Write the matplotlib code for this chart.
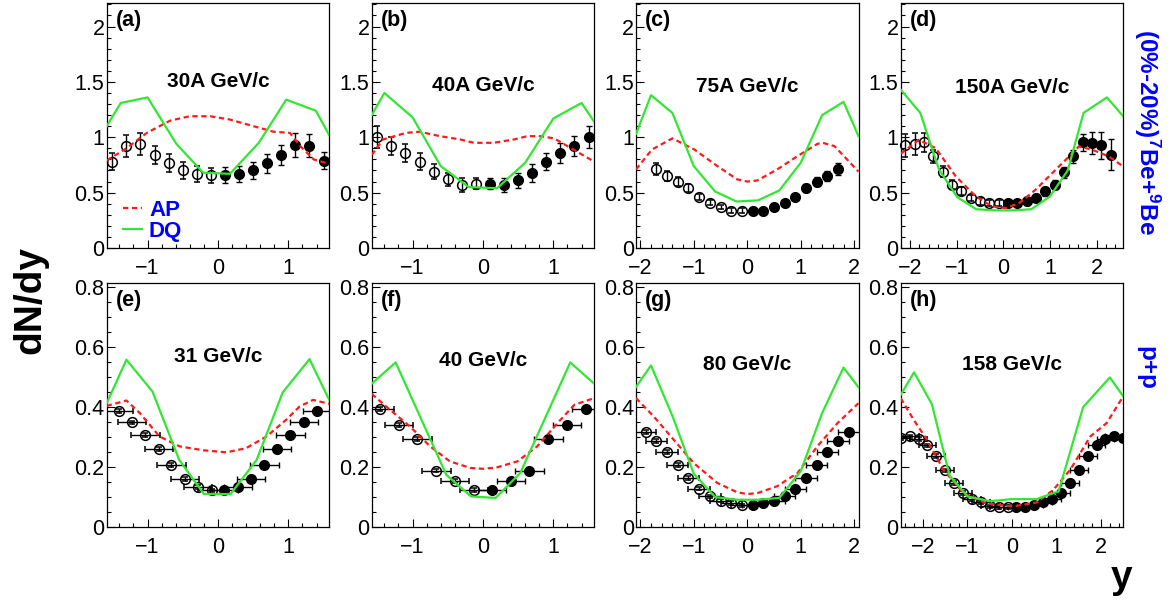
import matplotlib
matplotlib.use('Agg')
import matplotlib.pyplot as plt
from matplotlib.ticker import MultipleLocator, FuncFormatter

plt.rcParams['font.family'] = ['Liberation Sans', 'DejaVu Sans']
plt.rcParams['mathtext.fontset'] = 'custom'
plt.rcParams['mathtext.rm'] = 'Liberation Sans:bold'
plt.rcParams['mathtext.it'] = 'Liberation Sans:bold'
plt.rcParams['mathtext.bf'] = 'Liberation Sans:bold'

# ---------------- data ----------------
titles = ["30A GeV/c", "40A GeV/c", "75A GeV/c", "150A GeV/c",
          "31 GeV/c", "40 GeV/c", "80 GeV/c", "158 GeV/c"]
tags = ["(a)", "(b)", "(c)", "(d)", "(e)", "(f)", "(g)", "(h)"]

# (a) Be+Be 30A GeV/c
a_x_open = [-1.5, -1.3, -1.1, -0.9, -0.7, -0.5, -0.3, -0.1]
a_y_open = [0.78, 0.925, 0.94, 0.84, 0.765, 0.70, 0.67, 0.655]
a_e_open = [0.08, 0.10, 0.10, 0.08, 0.08, 0.075, 0.07, 0.07]
a_x_fill = [0.1, 0.3, 0.5, 0.7, 0.9, 1.1, 1.3, 1.5]
a_y_fill = [0.66, 0.67, 0.70, 0.765, 0.84, 0.93, 0.925, 0.79]
a_e_fill = [0.07, 0.07, 0.075, 0.085, 0.09, 0.11, 0.105, 0.08]
a_ap_x = [-1.58, -1.30, -1.01, -0.68, -0.40, -0.11, 0.17, 0.45, 0.79, 1.02, 1.17, 1.36, 1.58]
a_ap_y = [0.79, 0.90, 1.04, 1.15, 1.19, 1.19, 1.16, 1.11, 1.05, 1.04, 0.92, 0.80, 0.76]
a_dq_x = [-1.58, -1.38, -1.0, -0.59, -0.21, 0.17, 0.58, 0.97, 1.39, 1.58]
a_dq_y = [1.10, 1.31, 1.36, 0.94, 0.68, 0.67, 0.95, 1.34, 1.24, 1.02]

# (b) Be+Be 40A GeV/c
b_x_open = [-1.5, -1.3, -1.1, -0.9, -0.7, -0.5, -0.3, -0.1]
b_y_open = [1.0, 0.92, 0.86, 0.78, 0.69, 0.62, 0.57, 0.58]
b_e_open = [0.10, 0.08, 0.08, 0.08, 0.07, 0.06, 0.06, 0.05]
b_x_fill = [0.1, 0.3, 0.5, 0.7, 0.9, 1.1, 1.3, 1.5]
b_y_fill = [0.58, 0.57, 0.61, 0.68, 0.78, 0.86, 0.92, 1.0]
b_e_fill = [0.05, 0.06, 0.07, 0.08, 0.08, 0.09, 0.09, 0.10]
b_ap_x = [-1.58, -1.42, -1.09, -0.9, -0.61, -0.32, -0.13, 0.15, 0.44, 0.63, 0.82, 1.01, 1.2, 1.58]
b_ap_y = [0.84, 0.98, 1.04, 1.05, 1.01, 0.98, 0.95, 0.95, 0.98, 1.01, 1.01, 0.99, 0.92, 0.78]
b_dq_x = [-1.58, -1.4, -1.0, -0.6, -0.2, 0.2, 0.6, 1.0, 1.4, 1.58]
b_dq_y = [1.20, 1.40, 1.18, 0.74, 0.55, 0.54, 0.77, 1.17, 1.31, 1.14]

# (c) Be+Be 75A GeV/c
c_x_open = [-1.7, -1.5, -1.3, -1.1, -0.9, -0.7, -0.5, -0.3, -0.1]
c_y_open = [0.716, 0.647, 0.60, 0.54, 0.46, 0.41, 0.37, 0.337, 0.337]
c_e_open = [0.055, 0.045, 0.04, 0.035, 0.03, 0.025, 0.02, 0.02, 0.02]
c_x_fill = [0.1, 0.3, 0.5, 0.7, 0.9, 1.1, 1.3, 1.5, 1.7]
c_y_fill = [0.337, 0.337, 0.37, 0.41, 0.46, 0.54, 0.60, 0.647, 0.716]
c_e_fill = [0.02, 0.02, 0.02, 0.025, 0.03, 0.035, 0.04, 0.045, 0.055]
c_ap_x = [-2.08, -1.78, -1.4, -0.99, -0.56, -0.19, 0.0, 0.19, 0.56, 0.94, 1.31, 1.41, 1.63, 2.08]
c_ap_y = [0.71, 0.89, 0.99, 0.89, 0.74, 0.62, 0.60, 0.61, 0.71, 0.83, 0.94, 0.95, 0.92, 0.69]
c_dq_x = [-2.08, -1.8, -1.4, -1.0, -0.6, -0.2, 0.2, 0.6, 1.0, 1.4, 1.8, 2.08]
c_dq_y = [1.03, 1.38, 1.22, 0.74, 0.51, 0.42, 0.43, 0.52, 0.77, 1.20, 1.32, 1.01]

# (d) Be+Be 150A GeV/c
d_x_open = [-2.1, -1.9, -1.7, -1.5, -1.3, -1.1, -0.9, -0.7, -0.5, -0.3, -0.1]
d_y_open = [0.926, 0.94, 0.953, 0.827, 0.69, 0.571, 0.517, 0.451, 0.421, 0.406, 0.406]
d_e_open = [0.10, 0.10, 0.09, 0.06, 0.05, 0.04, 0.035, 0.03, 0.03, 0.03, 0.03]
d_x_fill = [0.1, 0.3, 0.5, 0.7, 0.9, 1.1, 1.3, 1.5, 1.7, 1.9, 2.1, 2.3]
d_y_fill = [0.406, 0.406, 0.421, 0.451, 0.511, 0.571, 0.683, 0.827, 0.953, 0.947, 0.926, 0.842]
d_e_fill = [0.03, 0.03, 0.03, 0.035, 0.04, 0.04, 0.05, 0.06, 0.08, 0.10, 0.12, 0.14]
d_ap_x = [-2.2, -1.81, -1.45, -1.02, -0.59, -0.24, 0.05, 0.34, 0.69, 1.05, 1.41, 1.62, 1.91, 2.26, 2.57]
d_ap_y = [0.851, 0.977, 0.902, 0.647, 0.466, 0.376, 0.361, 0.406, 0.526, 0.677, 0.827, 0.917, 0.887, 0.827, 0.737]
d_dq_x = [-2.2, -1.78, -1.38, -0.99, -0.58, -0.18, 0.22, 0.6, 1.0, 1.38, 1.72, 2.22, 2.57]
d_dq_y = [1.43, 1.22, 0.71, 0.46, 0.35, 0.34, 0.34, 0.35, 0.466, 0.70, 1.22, 1.36, 1.19]

# (e) p+p 31 GeV/c
e_x_open = [-1.41, -1.22, -1.03, -0.84, -0.66, -0.47, -0.28, -0.09]
e_y_open = [0.386, 0.349, 0.307, 0.261, 0.206, 0.16, 0.133, 0.122]
e_x_fill = [0.09, 0.28, 0.47, 0.66, 0.84, 1.03, 1.22, 1.41]
e_y_fill = [0.122, 0.133, 0.16, 0.206, 0.261, 0.307, 0.349, 0.386]
e_ap_x = [-1.58, -1.30, -1.11, -0.83, -0.545, -0.21, 0.12, 0.40, 0.69, 0.97, 1.16, 1.35, 1.58]
e_ap_y = [0.404, 0.422, 0.38, 0.302, 0.269, 0.256, 0.249, 0.263, 0.302, 0.358, 0.402, 0.424, 0.411]
e_dq_x = [-1.58, -1.3, -0.93, -0.55, -0.2, 0.18, 0.55, 0.92, 1.3, 1.58]
e_dq_y = [0.413, 0.558, 0.452, 0.224, 0.11, 0.11, 0.224, 0.449, 0.56, 0.424]

# (f) p+p 40 GeV/c
f_x_open = [-1.46, -1.19, -0.93, -0.66, -0.40, -0.13]
f_y_open = [0.393, 0.341, 0.293, 0.188, 0.153, 0.124]
f_x_fill = [0.13, 0.40, 0.66, 0.93, 1.19, 1.46]
f_y_fill = [0.124, 0.153, 0.188, 0.293, 0.341, 0.393]
f_ap_x = [-1.58, -1.32, -1.04, -0.75, -0.47, -0.18, 0.01, 0.2, 0.49, 0.77, 1.06, 1.3, 1.58]
f_ap_y = [0.444, 0.391, 0.336, 0.269, 0.219, 0.197, 0.194, 0.199, 0.219, 0.269, 0.347, 0.408, 0.43]
f_dq_x = [-1.58, -1.24, -0.52, -0.17, 0.18, 0.53, 1.24, 1.58]
f_dq_y = [0.478, 0.549, 0.174, 0.102, 0.097, 0.18, 0.549, 0.478]

# (g) p+p 80 GeV/c
g_x_open = [-1.9, -1.7, -1.5, -1.3, -1.1, -0.9, -0.7, -0.5, -0.3, -0.1]
g_y_open = [0.317, 0.286, 0.25, 0.206, 0.163, 0.128, 0.102, 0.088, 0.08, 0.072]
g_x_fill = [0.1, 0.3, 0.5, 0.7, 0.9, 1.1, 1.3, 1.5, 1.7, 1.9]
g_y_fill = [0.073, 0.08, 0.088, 0.102, 0.128, 0.163, 0.206, 0.25, 0.286, 0.317]
g_ap_x = [-2.08, -1.75, -1.375, -1.0, -0.56, -0.19, 0.0, 0.19, 0.56, 0.94, 1.31, 1.69, 2.08]
g_ap_y = [0.43, 0.369, 0.291, 0.213, 0.147, 0.116, 0.11, 0.113, 0.136, 0.18, 0.269, 0.347, 0.413]
g_dq_x = [-2.08, -1.8, -1.4, -1.0, -0.6, -0.2, 0.2, 0.6, 1.0, 1.4, 1.8, 2.08]
g_dq_y = [0.467, 0.539, 0.371, 0.178, 0.10, 0.091, 0.091, 0.097, 0.186, 0.38, 0.532, 0.466]

# (h) p+p 158 GeV/c
h_x_open = [-2.5, -2.3, -2.1, -1.9, -1.7, -1.5, -1.3, -1.1, -0.9, -0.7, -0.5, -0.3, -0.1]
h_y_open = [0.297, 0.302, 0.293, 0.272, 0.236, 0.189, 0.147, 0.113, 0.093, 0.082, 0.069, 0.066, 0.066]
h_x_fill = [0.1, 0.3, 0.5, 0.7, 0.9, 1.1, 1.3, 1.5, 1.7, 1.9, 2.1, 2.3, 2.5]
h_y_fill = [0.066, 0.066, 0.072, 0.082, 0.093, 0.113, 0.147, 0.189, 0.236, 0.272, 0.293, 0.302, 0.297]
h_ap_x = [-2.5, -2.21, -1.91, -1.54, -1.09, -0.57, 0.03, 0.56, 0.93, 1.31, 1.76, 2.13, 2.5]
h_ap_y = [0.43, 0.358, 0.291, 0.191, 0.113, 0.078, 0.069, 0.082, 0.124, 0.191, 0.302, 0.347, 0.436]
h_dq_x = [-2.5, -2.2, -1.8, -1.4, -1.0, -0.5, 0.0, 0.55, 1.05, 1.6, 2.2, 2.5]
h_dq_y = [0.441, 0.516, 0.41, 0.171, 0.102, 0.086, 0.093, 0.093, 0.119, 0.40, 0.499, 0.436]

xlims = [(-1.58, 1.58), (-1.58, 1.58), (-2.08, 2.08), (-2.2, 2.57),
         (-1.58, 1.58), (-1.58, 1.58), (-2.08, 2.08), (-2.5, 2.5)]
pp_xerr = 0.2
pp_yerr = 0.006

panels = [
    (a_x_open, a_y_open, a_e_open, a_x_fill, a_y_fill, a_e_fill, a_ap_x, a_ap_y, a_dq_x, a_dq_y),
    (b_x_open, b_y_open, b_e_open, b_x_fill, b_y_fill, b_e_fill, b_ap_x, b_ap_y, b_dq_x, b_dq_y),
    (c_x_open, c_y_open, c_e_open, c_x_fill, c_y_fill, c_e_fill, c_ap_x, c_ap_y, c_dq_x, c_dq_y),
    (d_x_open, d_y_open, d_e_open, d_x_fill, d_y_fill, d_e_fill, d_ap_x, d_ap_y, d_dq_x, d_dq_y),
    (e_x_open, e_y_open, None, e_x_fill, e_y_fill, None, e_ap_x, e_ap_y, e_dq_x, e_dq_y),
    (f_x_open, f_y_open, None, f_x_fill, f_y_fill, None, f_ap_x, f_ap_y, f_dq_x, f_dq_y),
    (g_x_open, g_y_open, None, g_x_fill, g_y_fill, None, g_ap_x, g_ap_y, g_dq_x, g_dq_y),
    (h_x_open, h_y_open, None, h_x_fill, h_y_fill, None, h_ap_x, h_ap_y, h_dq_x, h_dq_y),
]

# ---------------- layout ----------------
W, H = 1176, 600
fig = plt.figure(figsize=(W / 100, H / 100), dpi=100)
col_left = [106.7, 371.7, 636.0, 900.7]
ax_w = 222.5
row_top = [3.3, 283.3]
row_bot = [248.0, 527.0]

RED = '#ff1a1a'
GREEN = '#33e633'
title_y = [0.68, 0.665, 0.66, 0.655, 0.70, 0.685, 0.665, 0.665]

fmt = FuncFormatter(lambda v, p: ('%g' % round(v, 6)).replace('-', '\u2212'))

for i, (xo, yo, eo, xf, yf, ef, apx, apy, dqx, dqy) in enumerate(panels):
    r, c = divmod(i, 4)
    l = col_left[c] / W
    b = 1 - row_bot[r] / H
    h = (row_bot[r] - row_top[r]) / H
    ax = fig.add_axes([l, b, ax_w / W, h])
    top = (r == 0)

    if top:
        ax.errorbar(xo, yo, yerr=eo, fmt='o', ms=7, mfc='none', mec='black', mew=1.1,
                    ecolor='black', elinewidth=1.0, capsize=2.4, capthick=1.0, zorder=3, clip_on=False)
        ax.errorbar(xf, yf, yerr=ef, fmt='o', ms=7, mfc='black', mec='black',
                    ecolor='black', elinewidth=1.0, capsize=2.4, capthick=1.0, zorder=3, clip_on=False)
    else:
        ax.errorbar(xo, yo, xerr=pp_xerr, yerr=pp_yerr, fmt='o', ms=7, mfc='none', mec='black', mew=1.1,
                    ecolor='black', elinewidth=1.0, capsize=2.0, capthick=1.0, zorder=3)
        ax.errorbar(xf, yf, xerr=pp_xerr, yerr=pp_yerr, fmt='o', ms=7, mfc='black', mec='black',
                    ecolor='black', elinewidth=1.0, capsize=2.0, capthick=1.0, zorder=3)

    l_ap, = ax.plot(apx, apy, color=RED, lw=1.6, dashes=(2.4, 1.6), zorder=4, label='AP')
    l_dq, = ax.plot(dqx, dqy, color=GREEN, lw=1.6, zorder=4, label='DQ')

    ax.set_xlim(*xlims[i])
    if top:
        ax.set_ylim(0, 2.21)
        ax.yaxis.set_major_locator(MultipleLocator(0.5))
        ax.yaxis.set_minor_locator(MultipleLocator(0.1))
    else:
        ax.set_ylim(0, 0.813)
        ax.yaxis.set_major_locator(MultipleLocator(0.2))
        ax.yaxis.set_minor_locator(MultipleLocator(0.05))
    ax.xaxis.set_major_locator(MultipleLocator(1.0))
    ax.xaxis.set_minor_locator(MultipleLocator(0.2))
    ax.xaxis.set_major_formatter(fmt)
    ax.yaxis.set_major_formatter(fmt)
    ax.tick_params(which='both', direction='in', top=False, right=False, width=0.8)
    ax.tick_params(which='major', length=6, labelsize=15.5)
    ax.tick_params(which='minor', length=3)
    ax.tick_params(axis='x', which='major', pad=7.5)
    ax.tick_params(axis='y', which='major', pad=1.5)
    for sp in ax.spines.values():
        sp.set_linewidth(0.9)

    ax.text(0.5, title_y[i], titles[i], transform=ax.transAxes, ha='center', va='center',
            fontsize=15, fontweight='bold')
    ax.text(0.04, 0.93, tags[i], transform=ax.transAxes, ha='left', va='center',
            fontsize=15.5, fontweight='bold')

    if i == 0:
        ax.legend(handles=[l_ap, l_dq], loc='lower left', bbox_to_anchor=(0.075, 0.025),
                  frameon=False, borderpad=0, borderaxespad=0, handlelength=0.85,
                  handletextpad=0.3, labelspacing=0.0, labelcolor='blue',
                  prop={'weight': 'bold', 'size': 16})

fig.text(30 / W, 1 - 300 / H, 'dN/dy', rotation=90, fontsize=28, fontweight='bold',
         ha='center', va='center')
fig.text(1147 / W, 1 - 132 / H, '(0%-20%)$^{7}$Be+$^{9}$Be', rotation=-90, color='blue',
         fontsize=17.5, fontweight='bold', ha='center', va='center')
fig.text(1147 / W, 1 - 368 / H, 'p+p', rotation=-90, color='blue',
         fontsize=17.5, fontweight='bold', ha='center', va='center')
fig.text(1122 / W, 1 - 578 / H, 'y', fontsize=28, fontweight='bold', ha='center', va='center')

fig.savefig('out.png', dpi=100)
